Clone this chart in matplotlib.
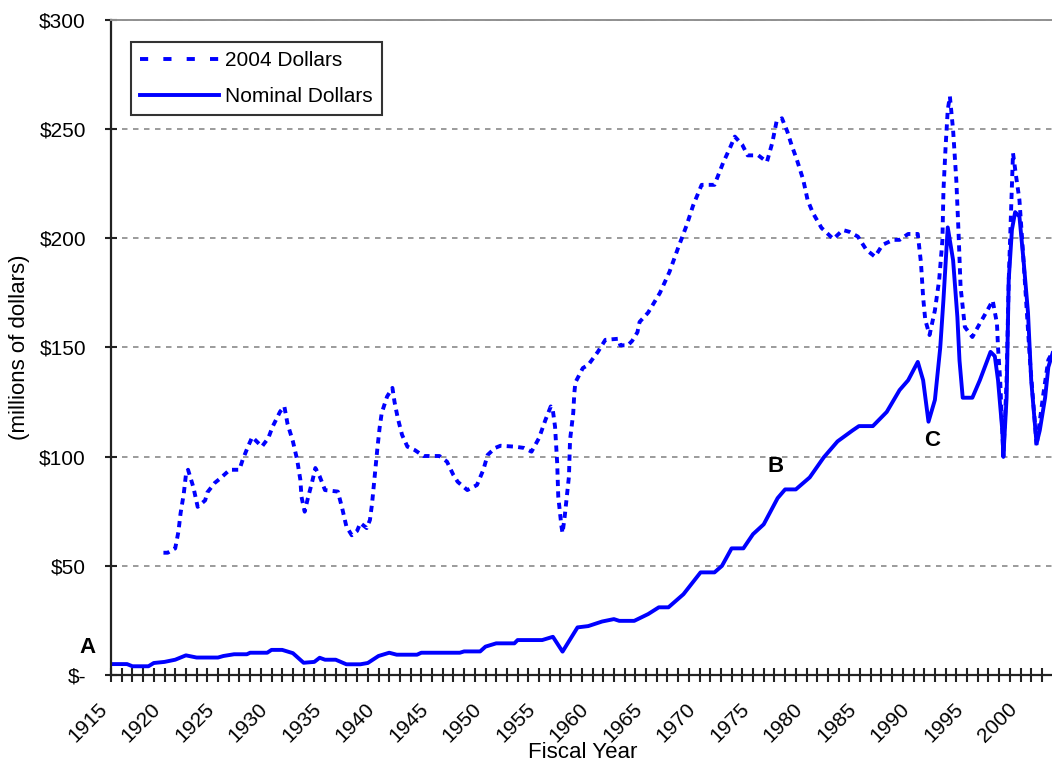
"""Fiscal-year spending chart: 2004 dollars vs nominal dollars."""

import matplotlib
import matplotlib.pyplot as plt
from matplotlib.lines import Line2D
from matplotlib.ticker import FuncFormatter, MultipleLocator

matplotlib.use("Agg")

plt.rcParams["font.family"] = ["Liberation Sans", "DejaVu Sans"]

# ── Data ──────────────────────────────────────────────────────────────────────

NOMINAL_YEARS = [
    1915, 1916.5, 1917, 1918.5, 1919, 1920, 1921, 1922, 1923, 1925, 1925.5,
    1926.5, 1927.7, 1928, 1929.6, 1930, 1931, 1932, 1933, 1934, 1934.5, 1935,
    1936, 1937, 1938.3, 1939, 1940, 1941, 1941.7, 1943.6, 1944, 1947.6, 1948,
    1949.5, 1950, 1951, 1952.7, 1953, 1955.3, 1956.3, 1957.2, 1958.6, 1959.6,
    1960.9, 1962.0, 1962.5, 1963.9, 1965.2, 1966.2, 1967.1, 1968.5, 1970.1,
    1971.4, 1972.1, 1973, 1974.1, 1975, 1976, 1977.3, 1978, 1979, 1980.3,
    1981.6, 1982.9, 1984.3, 1984.9, 1986.2, 1987.5, 1988.7, 1989.5, 1990.4,
    1990.9, 1991.4, 1992, 1992.5, 1992.8, 1993.2, 1993.7, 1994.1, 1994.3,
    1994.6, 1995.5, 1996.2, 1997.2, 1997.6, 1997.9, 1998.3, 1998.4, 1998.7,
    1998.9, 1999.2, 1999.5, 1999.9, 2000.3, 2000.7, 2001, 2001.5, 2001.8,
    2002.3, 2002.6, 2003,
]
NOMINAL_VALUES = [
    5, 5, 4, 4, 5.5, 6, 7, 9, 8, 8, 8.7,
    9.5, 9.5, 10.2, 10.2, 11.5, 11.5, 10, 5.6, 6, 7.9, 7,
    7, 4.9, 4.9, 5.5, 8.7, 10.2, 9.3, 9.3, 10.2, 10.2, 10.8,
    10.8, 13, 14.5, 14.5, 16, 16, 17.5, 10.7, 21.8, 22.4,
    24.5, 25.6, 24.8, 24.8, 27.9, 31, 31, 37, 47,
    47, 50, 58, 58, 64.5, 69, 81, 85, 85, 90.5,
    99.6, 107, 112, 114, 114, 120.5, 130.5, 135, 143.4,
    135, 116, 126, 150, 172, 205, 190, 164, 144,
    127, 127, 135, 148, 146, 135, 112, 100, 127,
    181, 204, 212, 210, 189, 166, 135, 106, 112,
    127, 141, 147.4,
]

REAL_YEARS = [
    1919.9, 1920.3, 1921, 1921.3, 1921.5, 1921.8, 1922, 1922.2, 1922.7, 1923.1,
    1923.8, 1924, 1924.7, 1925.2, 1926.1, 1927, 1927.3, 1927.8, 1928.2, 1929.1,
    1929.7, 1930.1, 1930.8, 1931.2, 1931.5, 1932, 1932.4, 1932.7, 1932.8,
    1933.1, 1933.4, 1933.8, 1934.1, 1934.5, 1935, 1936.2, 1936.6, 1937, 1937.5,
    1938, 1938.3, 1938.9, 1939.2, 1939.4, 1939.7, 1939.9, 1940.1, 1940.3,
    1940.8, 1941.3, 1941.5, 1941.8, 1942.2, 1942.7, 1943.4, 1944.2, 1945.7,
    1946.4, 1947, 1947.4, 1948.3, 1949.2, 1949.8, 1950.2, 1950.9, 1951.4,
    1952.7, 1953.6, 1954.3, 1955, 1955.6, 1956.1, 1956.3, 1956.5, 1956.7,
    1956.8, 1957.1, 1957.2, 1957.4, 1957.6, 1957.8, 1957.9, 1958.2, 1958.3,
    1958.4, 1959.1, 1959.6, 1960.5, 1961.2, 1962.4, 1962.6, 1963.3, 1963.7,
    1964.2, 1964.4, 1965.2, 1966.3, 1967.2, 1968, 1968.8, 1969.4, 1970.2,
    1971.4, 1972.2, 1972.9, 1973.3, 1974, 1974.5, 1975.5, 1976.3, 1976.8,
    1977.2, 1977.7, 1978.2, 1978.6, 1979.1, 1979.7, 1980.1, 1980.6, 1981.4,
    1982.5, 1983.4, 1984, 1984.8, 1985.6, 1986.4, 1987.1, 1988.1, 1988.7,
    1989.5, 1990.4, 1990.7, 1990.9, 1991.1, 1991.5, 1992, 1992.4, 1992.7,
    1992.8, 1993, 1993.2, 1993.4, 1993.7, 1994, 1994.2, 1994.4, 1994.8,
    1995.5, 1996.2, 1996.9, 1997.4, 1997.8, 1997.9, 1998.1, 1998.3, 1998.4,
    1998.7, 1998.9, 1999.1, 1999.3, 1999.6, 1999.9, 2000.2, 2000.6, 2000.9,
    2001.4, 2001.5, 2002.1, 2002.6, 2003,
]
REAL_VALUES = [
    56, 56, 58, 65.6, 74, 83, 91.6, 94, 86, 77,
    80, 83.6, 88, 90, 94, 94, 98.5, 104.6, 109, 104.6,
    108.5, 113.7, 120.6, 123, 115, 107, 98.5, 89.3, 81.7,
    74.8, 81, 88.5, 94.8, 91, 84.7, 84, 76.5, 68, 64,
    66, 69.6, 67.3, 71, 78.6, 94, 104, 113, 120,
    127.5, 131.5, 125, 117.7, 110, 104.6, 103, 100.3, 100.3,
    97.7, 91.6, 88.5, 84.7, 87, 94, 100.8, 104, 105,
    104.6, 104, 102.3, 108.5, 116.8, 123, 121, 113.7, 97,
    81.7, 68, 65, 72.5, 81.7, 91, 107.6, 120, 129,
    134, 140.6, 142, 148, 153.5, 154, 151, 151, 153,
    157, 161.7, 166, 175, 184.7, 195.6, 206, 215, 224.5,
    224.5, 234.5, 242, 246.6, 242.8, 238, 238, 235, 243.7,
    253.5, 255, 249, 242.8, 236, 226.7, 217.6, 211.6, 204.8,
    199.7, 203.8, 203, 200.8, 194.7, 191.6, 197, 199.3, 199.3,
    202, 202, 188.7, 173, 162.6, 155.7, 167, 181, 199,
    222, 242, 258.8, 265, 249.6, 226.7, 203.8, 177.7, 159.4,
    154.8, 161, 167, 171.5, 161, 150, 135, 112, 100,
    135, 181, 210, 239, 228, 217.6, 196, 166, 143,
    112, 105, 127.5, 144.3, 148,
]

SERIES_LABELS = ["2004 Dollars", "Nominal Dollars"]
POINT_LABELS = ["A", "B", "C"]
POINT_XY = [(1912.85, 12.8), (1977.15, 95.3), (1991.7, 107.6)]

BLUE = "#0000ff"
LW = 2.8

# ── Chart ─────────────────────────────────────────────────────────────────────

fig = plt.figure(figsize=(10.52, 7.66), dpi=100)
ax = fig.add_axes([111 / 1052, 1 - 675 / 766, 941 / 1052, 655 / 766])

ax.plot(REAL_YEARS, REAL_VALUES, color=BLUE, linewidth=LW,
        dashes=(1.6, 1.35), solid_joinstyle="round")
ax.plot(NOMINAL_YEARS, NOMINAL_VALUES, color=BLUE, linewidth=LW,
        solid_joinstyle="round")

ax.set_xlim(1915, 1915 + 941 / 10.7)
ax.set_ylim(0, 300)

ax.yaxis.set_major_locator(MultipleLocator(50))
ax.yaxis.set_major_formatter(FuncFormatter(lambda v, _: "$-" if v == 0 else f"${v:.0f}"))
ax.xaxis.set_major_locator(MultipleLocator(5))
ax.xaxis.set_minor_locator(MultipleLocator(1))
ax.xaxis.set_major_formatter(FuncFormatter(lambda v, _: f"{v:.0f}"))

ax.grid(axis="y", color="#808080", linestyle=(0, (3.6, 3.6)), linewidth=1.1)
ax.set_axisbelow(True)

for side in ("left", "bottom"):
    ax.spines[side].set_color("#222222")
    ax.spines[side].set_linewidth(1.6)
ax.spines["top"].set_color("#909090")
ax.spines["top"].set_linewidth(1.4)
ax.spines["right"].set_visible(False)

ax.tick_params(axis="y", direction="inout", length=8, width=1.5, color="#222222",
               pad=14, labelsize=15)
ax.tick_params(axis="x", which="both", direction="inout", length=9.5, width=1.5,
               color="#222222", pad=13, labelsize=15)
for lbl in ax.get_xticklabels():
    lbl.set_rotation(45)
    lbl.set_ha("right")

ax.set_xlabel("Fiscal Year", fontsize=16)
ax.xaxis.set_label_coords(0.5016, -0.103)
ax.set_ylabel("(millions of dollars)", fontsize=16)
ax.yaxis.set_label_coords(-0.086, 0.5)

for txt, (px, py) in zip(POINT_LABELS, POINT_XY, strict=True):
    ax.text(px, py, txt, fontsize=16, fontweight="bold", ha="center", va="center",
            clip_on=False)

handles = [
    Line2D([], [], color=BLUE, linewidth=LW, dashes=(2.1, 3.9)),
    Line2D([], [], color=BLUE, linewidth=LW),
]
leg = ax.legend(handles, SERIES_LABELS, loc="upper left",
                bbox_to_anchor=(0.0213, 0.9664), borderaxespad=0, fontsize=15,
                frameon=True, fancybox=False, edgecolor="black",
                handlelength=3.75, handletextpad=0.3, labelspacing=0.8,
                borderpad=0.45)
leg.get_frame().set_linewidth(1.5)

fig.savefig("out.png", dpi=100)
